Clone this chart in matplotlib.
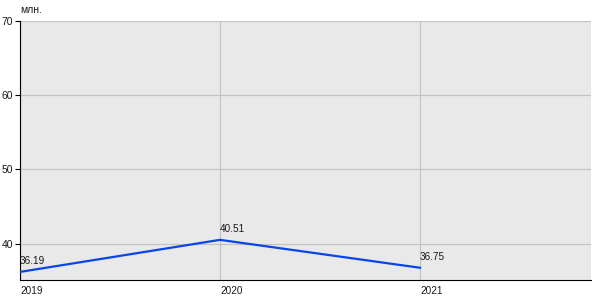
import matplotlib
matplotlib.use("Agg")
import matplotlib.pyplot as plt

plt.rcParams["font.family"] = ["Liberation Sans", "DejaVu Sans"]

years = [2019, 2020, 2021]
values = [36.19, 40.51, 36.75]
labels = ["36.19", "40.51", "36.75"]
y_ticks = [40, 50, 60, 70]

fig = plt.figure(figsize=(6, 3), dpi=100)
ax = fig.add_axes([20 / 600, 20 / 300, 571 / 600, 259 / 300])
ax.set_facecolor("#e9e9e9")

ax.plot(years, values, color="#0a45e6", lw=1.6, zorder=3)
for x, y, t in zip(years, values, labels):
    ax.annotate(t, (x, y), xytext=(0, 4.5), textcoords="offset points",
                ha="left", va="bottom", fontsize=7.2, color="#1a1a1a")

ax.set_xlim(2019, 2021.855)
ax.set_ylim(35.1, 70)
ax.set_xticks(years)
ax.set_xticklabels([str(y) for y in years], ha="left")
ax.set_yticks(y_ticks)
ax.grid(True, color="#c4c4c4", lw=0.9)
ax.set_axisbelow(True)

for s in ["top", "right"]:
    ax.spines[s].set_visible(False)
ax.spines["left"].set_color("black")
ax.spines["bottom"].set_color("black")
ax.tick_params(axis="y", labelsize=7.5, length=3.5, pad=1.5, colors="#1a1a1a")
ax.tick_params(axis="x", labelsize=7.2, length=0, pad=4, colors="#1a1a1a")
ax.tick_params(axis="y", color="black")

ax.text(0, 1.025, "млн.", transform=ax.transAxes, fontsize=7.5,
        ha="left", va="bottom", color="#1a1a1a")

fig.savefig("out.png", dpi=100)
